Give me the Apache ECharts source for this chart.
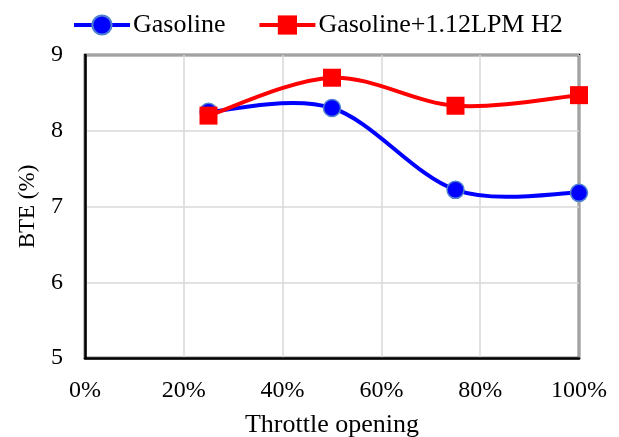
<!DOCTYPE html>
<html><head><meta charset="utf-8">
<script src="https://cdn.jsdelivr.net/npm/echarts@6/dist/echarts.min.js"></script>
<style>html,body{margin:0;padding:0;background:#fff}#c{width:619px;height:437px}</style>
</head><body><div id="c"></div>
<script>
const throttle = [0.25, 0.50, 0.75, 1.00];
const gasoline = [8.25, 8.30, 7.22, 7.18];
const gasolineH2 = [8.20, 8.70, 8.33, 8.47];
const seriesNames = ['Gasoline', 'Gasoline+1.12LPM H2'];
const xTitle = 'Throttle opening';
const yTitle = 'BTE (%)';

const font = 'Liberation Serif, Times New Roman, serif';
const BLUE = '#0000ff', RED = '#ff0000';

// Excel-like smoothed curve (Catmull-Rom -> cubic Bezier) through the data, via the chart's scales
function curveSeries(name, vals, color, z) {
  return {
    name: name, type: 'custom', z: z, silent: true,
    data: throttle.map((x, i) => [x, vals[i]]),
    encode: {x: 0, y: 1},
    renderItem: function (params, api) {
      const i = params.dataIndex;
      const n = throttle.length;
      if (i >= n - 1) return null;
      const P = k => api.coord([throttle[Math.max(0, Math.min(n - 1, k))], vals[Math.max(0, Math.min(n - 1, k))]]);
      const p0 = P(i - 1), p1 = P(i), p2 = P(i + 1), p3 = P(i + 2);
      return {
        type: 'bezierCurve',
        shape: {
          x1: p1[0], y1: p1[1], x2: p2[0], y2: p2[1],
          cpx1: p1[0] + (p2[0] - p0[0]) / 6, cpy1: p1[1] + (p2[1] - p0[1]) / 6,
          cpx2: p2[0] - (p3[0] - p1[0]) / 6, cpy2: p2[1] - (p3[1] - p1[1]) / 6
        },
        style: {stroke: color, lineWidth: 4, fill: null, lineCap: 'round'}
      };
    }
  };
}

const chart = echarts.init(document.getElementById('c'));
chart.setOption({
  animation: false,
  backgroundColor: '#fff',
  textStyle: {fontFamily: font},
  legend: {
    top: 7, left: 67,
    itemWidth: 56, itemHeight: 24, itemGap: 32,
    textStyle: {fontFamily: font, fontSize: 26, color: '#000', padding: [0,0,0,-2]},
    data: [
      {name: seriesNames[0], lineStyle: {color: BLUE, width: 4, opacity: 1}},
      {name: seriesNames[1], lineStyle: {color: RED, width: 4, opacity: 1}}
    ]
  },
  grid: {left: 85, right: 40, top: 55, bottom: 79, outerBoundsMode: 'none', containLabel: false,
         show: true, borderColor: '#000', borderWidth: 2.5},
  xAxis: {
    type: 'value', min: 0, max: 1, interval: 0.2,
    name: xTitle, nameLocation: 'middle', nameGap: 54,
    nameTextStyle: {fontFamily: font, fontSize: 26, color: '#000'},
    axisLine: {lineStyle: {color: '#000', width: 2.5}},
    axisTick: {show: false},
    axisLabel: {fontFamily: font, fontSize: 24, color: '#000', margin: 21,
      formatter: v => Math.round(v * 100) + '%'},
    splitLine: {show: true, lineStyle: {color: '#d9d9d9', width: 1.5}}
  },
  yAxis: {
    type: 'value', min: 5, max: 9, interval: 1,
    name: yTitle, nameLocation: 'middle', nameGap: 46, nameRotate: 90,
    nameTextStyle: {fontFamily: font, fontSize: 23, color: '#000'},
    axisLine: {show: true, lineStyle: {color: '#000', width: 2.5}},
    axisTick: {show: false},
    axisLabel: {fontFamily: font, fontSize: 24, color: '#000', margin: 22},
    splitLine: {show: true, lineStyle: {color: '#d9d9d9', width: 1.5}}
  },
  series: [
    curveSeries('curve-gasoline', gasoline, BLUE, 2),
    {
      name: seriesNames[0], type: 'line',
      data: throttle.map((x, i) => [x, gasoline[i]]),
      symbol: 'circle', symbolSize: 17,
      lineStyle: {color: BLUE, width: 4, opacity: 0},
      itemStyle: {color: BLUE, borderColor: '#4f81d0', borderWidth: 1.5},
      z: 3
    },
    curveSeries('curve-h2', gasolineH2, RED, 4),
    {
      name: seriesNames[1], type: 'line',
      data: throttle.map((x, i) => [x, gasolineH2[i]]),
      symbol: 'rect', symbolSize: 18,
      lineStyle: {color: RED, width: 4, opacity: 0},
      itemStyle: {color: RED},
      z: 5
    }
  ]
});
</script></body></html>
